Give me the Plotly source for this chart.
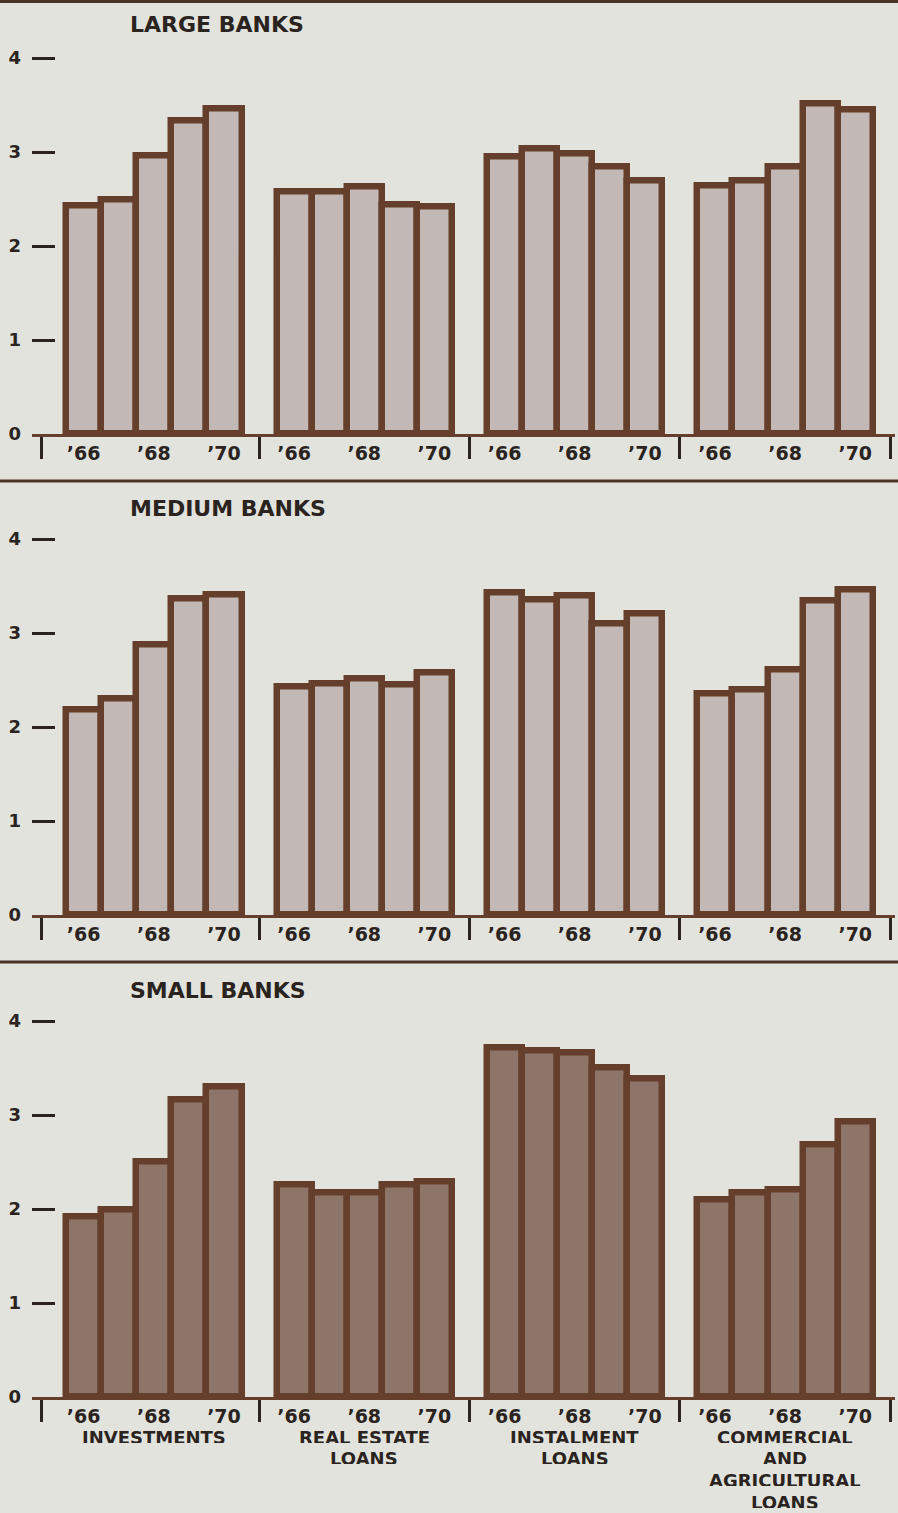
import plotly.graph_objects as go

# ---------------- data ----------------
years = ["’66", "’67", "’68", "’69", "’70"]
tick_years = ["’66", "’68", "’70"]
groups = ["INVESTMENTS", "REAL ESTATE<br>LOANS", "INSTALMENT<br>LOANS",
          "COMMERCIAL<br>AND<br>AGRICULTURAL<br>LOANS"]
panel_titles = ["LARGE BANKS", "MEDIUM BANKS", "SMALL BANKS"]
y_ticks = [0, 1, 2, 3, 4]

large_inv = [2.43, 2.49, 2.96, 3.33, 3.46]
large_re = [2.58, 2.58, 2.63, 2.44, 2.42]
large_inst = [2.95, 3.04, 2.98, 2.84, 2.70]
large_comm = [2.64, 2.70, 2.84, 3.52, 3.45]

medium_inv = [2.18, 2.30, 2.88, 3.37, 3.41]
medium_re = [2.43, 2.46, 2.52, 2.45, 2.58]
medium_inst = [3.43, 3.36, 3.40, 3.10, 3.21]
medium_comm = [2.36, 2.40, 2.61, 3.34, 3.46]

small_inv = [1.92, 1.99, 2.50, 3.16, 3.30]
small_re = [2.26, 2.17, 2.17, 2.26, 2.29]
small_inst = [3.72, 3.68, 3.66, 3.50, 3.39]
small_comm = [2.10, 2.17, 2.21, 2.69, 2.93]

panel_data = [
    [large_inv, large_re, large_inst, large_comm],
    [medium_inv, medium_re, medium_inst, medium_comm],
    [small_inv, small_re, small_inst, small_comm],
]

# ---------------- style / geometry ----------------
W, H = 898, 1513
BG = "#e2e3dd"
BROWN = "#653f2b"
INK = "#2a2320"
FILLS = ["#c2b9b7", "#c2b9b7", "#8e7569"]
FONT = "DejaVu Sans"

STEP = 6                      # slots per group (5 bars + gap)
ZERO_PX = [434, 915, 1397]    # baseline pixel row of each panel
UNIT_Y_PX = 94                # pixels per 1.0 on the value axis
Y_MAX = 4.1
TITLE_PX = [24, 508, 990]
RULE_PX = [1.5, 481, 962]
LEFT_PX, RIGHT_PX = 32, 895
X0_PX, UNIT_PX = 83.7, 35.07
LABEL_TOP_PX, LABEL_LINE_PX = 1436.5, 21.7
x_range = [(LEFT_PX - X0_PX) / UNIT_PX, (RIGHT_PX - X0_PX) / UNIT_PX]
x_domain = [LEFT_PX / W, RIGHT_PX / W]

label_pos = [STEP * g + years.index(t) for g in range(len(groups)) for t in tick_years]
label_txt = [t for g in range(len(groups)) for t in tick_years]
seps = [STEP * g - 1 for g in range(len(groups) + 1)]
seps[0] -= 0.2

fig = go.Figure()
layout = {}
for p, data in enumerate(panel_data):
    k = p + 1
    xs, ys, cd = [], [], []
    for g, series in enumerate(data):
        for i, v in enumerate(series):
            xs.append(STEP * g + i)
            ys.append(v)
            cd.append(f"{groups[g].replace('<br>', ' ')} {years[i]}")
    fig.add_trace(go.Bar(
        x=xs, y=ys, width=1, customdata=cd,
        hovertemplate="%{customdata}: %{y}<extra></extra>",
        marker=dict(color=FILLS[p], line=dict(color=BROWN, width=6.5)),
        xaxis=f"x{k}", yaxis=f"y{k}", showlegend=False,
    ))
    z = ZERO_PX[p]
    layout[f"xaxis{k}"] = dict(
        domain=x_domain, range=x_range, anchor=f"y{k}", automargin=False,
        tickmode="array", tickvals=label_pos, ticktext=label_txt,
        ticks="", showline=True, linecolor=BROWN, linewidth=3,
        showgrid=False, zeroline=False, fixedrange=True,
        tickfont=dict(family=FONT, size=19, color=INK, weight="bold"),
        ticklabelstandoff=0,
        minor=dict(tickmode="array", tickvals=seps, ticks="outside",
                   ticklen=22, tickwidth=3, tickcolor=INK, showgrid=False),
    )
    layout[f"yaxis{k}"] = dict(
        domain=[1 - z / H, 1 - (z - UNIT_Y_PX * Y_MAX) / H], range=[0, Y_MAX],
        anchor=f"x{k}", tickmode="array", tickvals=y_ticks, automargin=False,
        ticks="inside", ticklen=23, tickwidth=3, tickcolor=INK,
        showline=False, showgrid=False, zeroline=False, fixedrange=True,
        tickfont=dict(family=FONT, size=18, color=INK, weight="bold"),
        ticklabelstandoff=10,
    )

shapes = [dict(type="line", xref="paper", yref="paper", x0=0, x1=1,
               y0=1 - r / H, y1=1 - r / H, line=dict(color="#4a3426", width=3))
          for r in RULE_PX]

annotations = []
for p, t in enumerate(panel_titles):
    annotations.append(dict(
        text=t, xref="paper", yref="paper", x=128 / W, y=1 - TITLE_PX[p] / H,
        xanchor="left", yanchor="middle", showarrow=False,
        font=dict(family=FONT, size=22, color=INK, weight="bold")))
for g, name in enumerate(groups):
    for j, line in enumerate(name.split("<br>")):
        annotations.append(dict(
            text=line, xref="x3", yref="paper", x=STEP * g + 2,
            y=1 - (LABEL_TOP_PX + j * LABEL_LINE_PX) / H,
            xanchor="center", yanchor="middle", showarrow=False,
            borderpad=0, height=12, valign="middle",
            font=dict(family=FONT, size=18, color=INK, weight="bold")))

fig.update_layout(
    width=W, height=H,
    margin=dict(l=0, r=0, t=0, b=0, pad=0, autoexpand=False),
    paper_bgcolor=BG, plot_bgcolor="rgba(0,0,0,0)", showlegend=False,
    bargap=0, shapes=shapes, annotations=annotations, **layout,
)
fig.write_html("out.html", include_plotlyjs=True, full_html=True,
               config={"displayModeBar": False},
               post_script="document.body.style.margin='0';"
                           "document.documentElement.style.margin='0';"
                           "document.body.style.overflow='hidden';"
                           "document.documentElement.style.overflow='hidden';"
                           "document.body.style.background='" + BG + "';")
